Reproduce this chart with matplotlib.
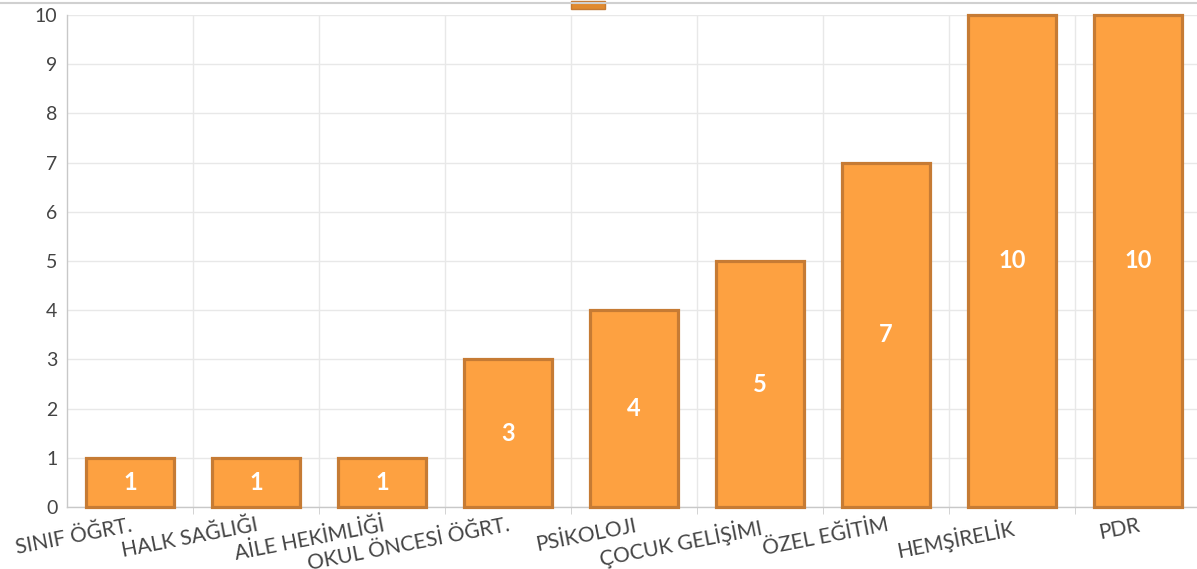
import matplotlib.pyplot as plt
from matplotlib.patches import Rectangle
from matplotlib.lines import Line2D
import numpy as np

CATEGORIES = [
    "SINIF ÖĞRT.",
    "HALK SAĞLIĞI",
    "AİLE HEKİMLİĞİ",
    "OKUL ÖNCESİ ÖĞRT.",
    "PSİKOLOJI",
    "ÇOCUK GELİŞİMI",
    "ÖZEL EĞİTİM",
    "HEMŞİRELİK",
    "PDR",
]
VALUES = [1, 1, 1, 3, 4, 5, 7, 10, 10]
Y_TICKS = list(range(0, 11))

FILL = "#FDA141"
EDGE = "#C67B34"
TEXT = "#444444"

plt.rcParams["font.family"] = ["Lato", "DejaVu Sans"]

fig = plt.figure(figsize=(11.97, 5.69), dpi=100)
ax = fig.add_axes([67 / 1197, 1 - 507 / 569, 1134 / 1197, 492 / 569])

x = np.arange(len(CATEGORIES))
bars = ax.bar(x, VALUES, width=0.7, color=FILL, edgecolor=EDGE, linewidth=2.3,
              zorder=3, clip_on=False)

for rect, v in zip(bars, VALUES):
    ax.text(rect.get_x() + rect.get_width() / 2, v / 2, str(v),
            ha="center", va="center", color="white", fontsize=17,
            fontweight="bold", zorder=4)

ax.set_xlim(-0.5, len(CATEGORIES) - 0.5)
ax.set_ylim(0, 10)
ax.set_yticks(Y_TICKS)
ax.tick_params(axis="y", length=0, pad=7, labelsize=14, labelcolor=TEXT)

ax.set_xticks(x)
ax.set_xticklabels(CATEGORIES, rotation=11, ha="right", rotation_mode="anchor",
                   fontsize=15, color=TEXT)
ax.tick_params(axis="x", which="major", length=0, pad=6)
ax.set_xticks(x[:-1] + 0.5, minor=True)
ax.tick_params(axis="x", which="minor", length=5, color="#cccccc")

ax.grid(axis="y", color="#e8e8e8", linewidth=1, zorder=0)
ax.grid(axis="x", which="minor", color="#e8e8e8", linewidth=1, zorder=0)
ax.set_axisbelow(True)

for side in ["top", "right"]:
    ax.spines[side].set_visible(False)
for side in ["left", "bottom"]:
    ax.spines[side].set_color("#c8c8c8")
    ax.spines[side].set_linewidth(1)

# top border line and cropped legend marker
fig.add_artist(Line2D([0, 1], [1 - 3 / 569, 1 - 3 / 569], transform=fig.transFigure,
                      color="#d0d0d0", linewidth=1.5))
fig.add_artist(Rectangle((571 / 1197, 1 - 9 / 569), 34 / 1197, 8 / 569,
                         transform=fig.transFigure, facecolor="#E08A30",
                         edgecolor=EDGE, linewidth=1))

fig.savefig("out.png", dpi=100)
